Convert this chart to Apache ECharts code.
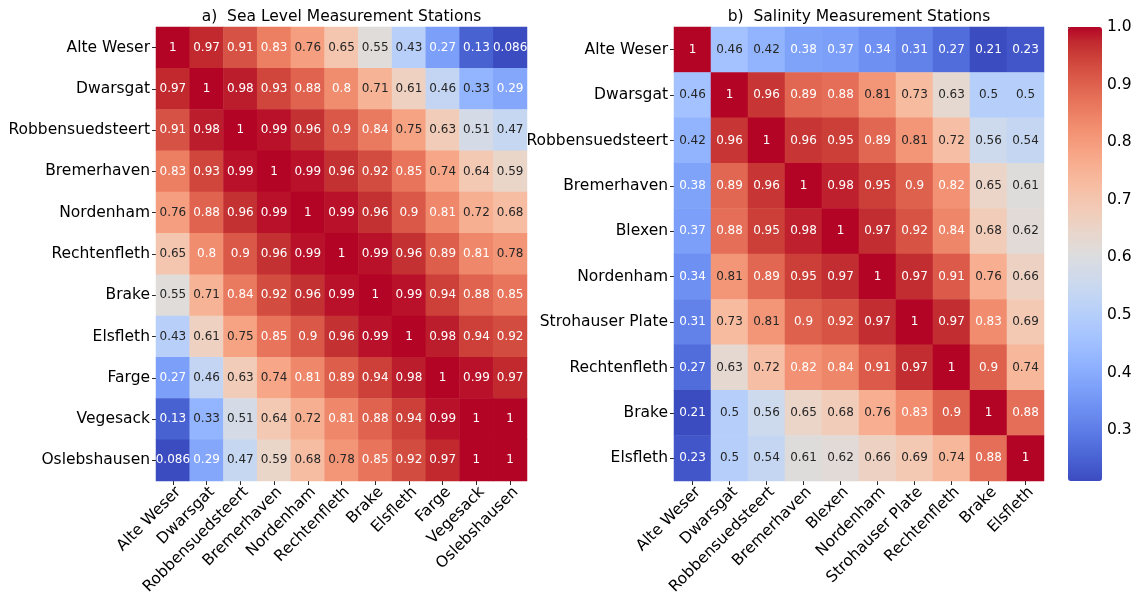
<!DOCTYPE html>
<html>
<head>
<meta charset="utf-8">
<title>Correlation of Weser Measurement Stations</title>
<script src="https://cdn.jsdelivr.net/npm/echarts@6/dist/echarts.min.js"></script>
<style>
  html, body { margin: 0; padding: 0; background: #ffffff; }
  #chart { width: 1137px; height: 603px; }
</style>
</head>
<body>
<div id="chart"></div>
<script>
// Station names (rows top-to-bottom, columns left-to-right)
const seaLevelStations = ['Alte Weser', 'Dwarsgat', 'Robbensuedsteert', 'Bremerhaven', 'Nordenham',
  'Rechtenfleth', 'Brake', 'Elsfleth', 'Farge', 'Vegesack', 'Oslebshausen'];
const salinityStations = ['Alte Weser', 'Dwarsgat', 'Robbensuedsteert', 'Bremerhaven', 'Blexen',
  'Nordenham', 'Strohauser Plate', 'Rechtenfleth', 'Brake', 'Elsfleth'];

// Correlation matrices
const seaLevelCorr = [
  [1, 0.97, 0.91, 0.83, 0.76, 0.65, 0.55, 0.43, 0.27, 0.13, 0.086],
  [0.97, 1, 0.98, 0.93, 0.88, 0.8, 0.71, 0.61, 0.46, 0.33, 0.29],
  [0.91, 0.98, 1, 0.99, 0.96, 0.9, 0.84, 0.75, 0.63, 0.51, 0.47],
  [0.83, 0.93, 0.99, 1, 0.99, 0.96, 0.92, 0.85, 0.74, 0.64, 0.59],
  [0.76, 0.88, 0.96, 0.99, 1, 0.99, 0.96, 0.9, 0.81, 0.72, 0.68],
  [0.65, 0.8, 0.9, 0.96, 0.99, 1, 0.99, 0.96, 0.89, 0.81, 0.78],
  [0.55, 0.71, 0.84, 0.92, 0.96, 0.99, 1, 0.99, 0.94, 0.88, 0.85],
  [0.43, 0.61, 0.75, 0.85, 0.9, 0.96, 0.99, 1, 0.98, 0.94, 0.92],
  [0.27, 0.46, 0.63, 0.74, 0.81, 0.89, 0.94, 0.98, 1, 0.99, 0.97],
  [0.13, 0.33, 0.51, 0.64, 0.72, 0.81, 0.88, 0.94, 0.99, 1, 1],
  [0.086, 0.29, 0.47, 0.59, 0.68, 0.78, 0.85, 0.92, 0.97, 1, 1]
];
const salinityCorr = [
  [1, 0.46, 0.42, 0.38, 0.37, 0.34, 0.31, 0.27, 0.21, 0.23],
  [0.46, 1, 0.96, 0.89, 0.88, 0.81, 0.73, 0.63, 0.5, 0.5],
  [0.42, 0.96, 1, 0.96, 0.95, 0.89, 0.81, 0.72, 0.56, 0.54],
  [0.38, 0.89, 0.96, 1, 0.98, 0.95, 0.9, 0.82, 0.65, 0.61],
  [0.37, 0.88, 0.95, 0.98, 1, 0.97, 0.92, 0.84, 0.68, 0.62],
  [0.34, 0.81, 0.89, 0.95, 0.97, 1, 0.97, 0.91, 0.76, 0.66],
  [0.31, 0.73, 0.81, 0.9, 0.92, 0.97, 1, 0.97, 0.83, 0.69],
  [0.27, 0.63, 0.72, 0.82, 0.84, 0.91, 0.97, 1, 0.9, 0.74],
  [0.21, 0.5, 0.56, 0.65, 0.68, 0.76, 0.83, 0.9, 1, 0.88],
  [0.23, 0.5, 0.54, 0.61, 0.62, 0.66, 0.69, 0.74, 0.88, 1]
];

// Colour-scale ranges and colour bar ticks
const seaLevelRange = [0.086, 1];
const salinityRange = [0.212, 1];
const colorbarTicks = [0.3, 0.4, 0.5, 0.6, 0.7, 0.8, 0.9, 1.0];

// Diverging cool-warm palette (blue -> grey -> red), evenly spaced stops
const coolwarm = [
  [59,76,192],[68,90,204],[77,104,215],[87,117,225],[98,130,234],[108,142,241],
  [119,154,247],[130,165,251],[141,176,254],[152,185,255],[163,194,255],[174,201,253],
  [184,208,249],[194,213,244],[204,217,238],[213,219,230],[221,221,221],[229,216,209],
  [236,211,197],[241,204,185],[245,196,173],[247,187,160],[247,177,148],[247,166,135],
  [244,154,123],[241,141,111],[236,127,99],[229,112,88],[222,96,77],[213,80,66],
  [203,62,56],[192,40,47],[180,4,38]
];
const coolwarmCss = coolwarm.map(c => 'rgb(' + c.join(',') + ')');

const FONT = 'DejaVu Sans';
const TEXT_SIZE = 15.5;

function paletteAt(t) {
  t = Math.max(0, Math.min(1, t));
  const pos = t * (coolwarm.length - 1);
  const i = Math.min(Math.floor(pos), coolwarm.length - 2);
  const f = pos - i;
  return coolwarm[i].map((c, k) => c + (coolwarm[i + 1][k] - c) * f);
}

// Dark text on light cells, white text on dark cells
function labelColor(v, range) {
  const rgb = paletteAt((v - range[0]) / (range[1] - range[0])).map(c => {
    c /= 255;
    return c <= 0.03928 ? c / 12.92 : Math.pow((c + 0.055) / 1.055, 2.4);
  });
  const lum = 0.2126 * rgb[0] + 0.7152 * rgb[1] + 0.0722 * rgb[2];
  return lum > 0.408 ? '#262626' : '#ffffff';
}

function cells(matrix, range) {
  const out = [];
  matrix.forEach((row, r) => row.forEach((v, c) => {
    out.push({ value: [c, r, v], label: { color: labelColor(v, range) } });
  }));
  return out;
}

function catAxis(names, gridIndex, isX) {
  return {
    type: 'category',
    gridIndex: gridIndex,
    data: names,
    inverse: !isX,
    axisLine: { show: false },
    axisTick: { show: true, alignWithLabel: true, length: 4, lineStyle: { color: '#262626', width: 1 } },
    axisLabel: {
      interval: 0,
      rotate: isX ? 45 : 0,
      margin: isX ? 3 : 6,
      verticalAlign: isX ? 'top' : 'middle',
      fontSize: TEXT_SIZE,
      fontFamily: FONT,
      color: '#000000'
    },
    splitLine: { show: false },
    splitArea: { show: false }
  };
}

function heatSeries(matrix, range, idx) {
  return {
    type: 'heatmap',
    xAxisIndex: idx,
    yAxisIndex: idx,
    data: cells(matrix, range),
    label: {
      show: true,
      fontSize: 12,
      fontFamily: FONT,
      formatter: p => String(p.value[2])
    },
    itemStyle: { borderWidth: 0 },
    emphasis: { disabled: true }
  };
}

const chart = echarts.init(document.getElementById('chart'), null, { renderer: 'canvas' });

chart.setOption({
  backgroundColor: '#ffffff',
  animation: false,
  graphic: [
    {
      type: 'text', x: 341.5, y: 17,
      style: { text: 'a)  Sea Level Measurement Stations', align: 'center', verticalAlign: 'middle',
        font: TEXT_SIZE + 'px "' + FONT + '"', fill: '#000000' }
    },
    {
      type: 'text', x: 859, y: 17,
      style: { text: 'b)  Salinity Measurement Stations', align: 'center', verticalAlign: 'middle',
        font: TEXT_SIZE + 'px "' + FONT + '"', fill: '#000000' }
    }
  ],
  grid: [
    { left: 156, top: 27, width: 371, height: 454 },
    { left: 674, top: 27, width: 370, height: 454 },
    { left: 1068, top: 27, width: 34, height: 454 }
  ],
  xAxis: [
    catAxis(seaLevelStations, 0, true),
    catAxis(salinityStations, 1, true),
    { type: 'value', gridIndex: 2, show: false, min: 0, max: 1 }
  ],
  yAxis: [
    catAxis(seaLevelStations, 0, false),
    catAxis(salinityStations, 1, false),
    {
      type: 'value', gridIndex: 2, position: 'right',
      min: salinityRange[0], max: salinityRange[1],
      axisLine: { show: false },
      splitLine: { show: false },
      axisTick: { show: true, length: 4, customValues: colorbarTicks, lineStyle: { color: '#262626' } },
      axisLabel: {
        customValues: colorbarTicks, margin: 5, fontSize: TEXT_SIZE, fontFamily: FONT, color: '#000000',
        formatter: v => Number(v).toFixed(1)
      }
    }
  ],
  visualMap: [
    {
      type: 'continuous', show: false, seriesIndex: 0, dimension: 2,
      min: seaLevelRange[0], max: seaLevelRange[1],
      inRange: { color: coolwarmCss }
    },
    {
      type: 'continuous', show: true, seriesIndex: 1, dimension: 2,
      min: salinityRange[0], max: salinityRange[1],
      inRange: { color: coolwarmCss },
      orient: 'vertical', left: 1068, top: 27, itemWidth: 34, itemHeight: 454,
      padding: 0, calculable: false, hoverLink: false, text: null, borderWidth: 0
    }
  ],
  series: [
    heatSeries(seaLevelCorr, seaLevelRange, 0),
    heatSeries(salinityCorr, salinityRange, 1)
  ]
});
</script>
</body>
</html>
